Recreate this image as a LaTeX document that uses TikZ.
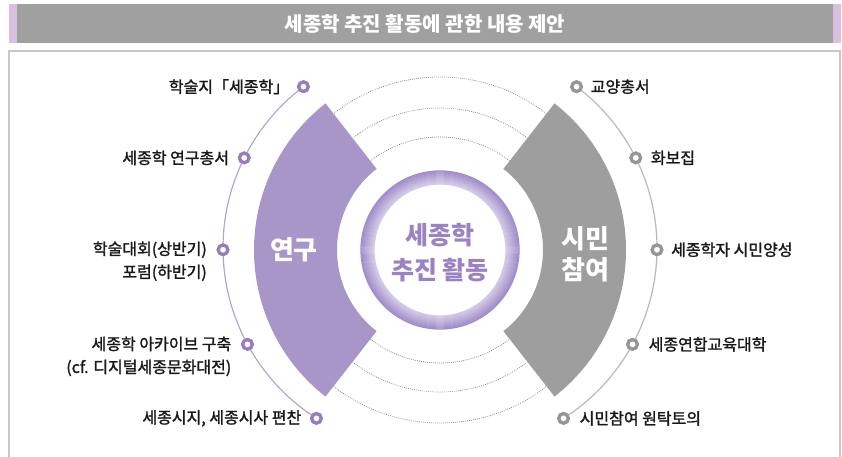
\documentclass[tikz,border=0pt]{standalone}
\usepackage{fontspec}
\setmainfont{Noto Sans CJK KR}
\newfontfamily\medfont{Noto Sans CJK KR}[FakeBold=1.6]
\usetikzlibrary{calc}
\definecolor{purp}{RGB}{168,150,200}
\definecolor{purpdot}{RGB}{150,125,190}
\definecolor{purpline}{RGB}{180,164,214}
\definecolor{purptext}{RGB}{155,130,195}
\definecolor{ringc}{RGB}{160,140,202}
\definecolor{sgray}{RGB}{158,158,158}
\definecolor{graydot}{RGB}{150,150,150}
\definecolor{grayline}{RGB}{185,185,185}
\definecolor{bargray}{RGB}{160,160,160}
\definecolor{capcol}{RGB}{218,192,224}
\definecolor{framecol}{RGB}{200,200,200}
\definecolor{dotcol}{RGB}{125,125,125}
\definecolor{txt}{RGB}{25,25,25}
\begin{document}
\begin{tikzpicture}[x=1pt,y=1pt,
  pdot/.style={circle, draw=purpdot, line width=3.2pt, fill=white, minimum size=9.5pt, inner sep=0pt},
  gdot/.style={circle, draw=graydot, line width=3.2pt, fill=white, minimum size=9.5pt, inner sep=0pt},
  lbl/.style={font=\medfont\fontsize{16}{23}\selectfont, text=txt, inner sep=0pt},
  dotarc/.style={draw=dotcol, line width=0.7pt, dash pattern=on 0.8pt off 1.2pt},
  sectortext/.style={font=\fontsize{26}{31}\selectfont\bfseries, text=white, align=center, inner sep=0pt},
  outerarc/.style={line width=1.2pt}
]
\useasboundingbox (-440,-207) rectangle (402,250);
\clip (-440,-207) rectangle (402,250);

% frame
\draw[framecol, line width=1.2pt] (-431,-230) -- (-431,199) -- (400,199) -- (400,-230);

% title bar
\fill[bargray] (-431,207) rectangle (401,246);
\fill[capcol] (-431,207) rectangle (-423,246);
\fill[capcol] (393,207) rectangle (401,246);
\node[font=\fontsize{20}{22}\selectfont\bfseries, text=white, inner sep=0pt] (title) at (-15,226.5) {세종학 추진 활동에 관한 내용 제안};

% dotted arcs
\foreach \r in {113,142,173}{
  \draw[dotarc] (52:\r) arc[start angle=52, end angle=128, radius=\r];
  \draw[dotarc] (232:\r) arc[start angle=232, end angle=308, radius=\r];
}

% sectors
\fill[purp] (128:103) arc[start angle=128, end angle=232, radius=103] -- (232:186) arc[start angle=232, end angle=128, radius=186] -- cycle;
\fill[sgray] (-52:103) arc[start angle=-52, end angle=52, radius=103] -- (52:186) arc[start angle=52, end angle=-52, radius=186] -- cycle;
\node[sectortext] (yg) at (-146,0) {연구};
\node[sectortext] (sm) at (145,-4) {시민\\참여};

% outer dots
\node[pdot] (d1) at ($(-15,2)+(127:202)$) {};
\node[pdot] (d2) at ($(-15,2)+(153.5:202)$) {};
\node[pdot] (d3) at ($(-15,2)+(180.5:202)$) {};
\node[pdot] (d4) at ($(-15,2)+(208.5:202)$) {};
\node[pdot] (d5) at ($(-15,2)+(237.5:202)$) {};
\node[gdot] (e1) at ($(15,2)+(53:202)$) {};
\node[gdot] (e2) at ($(15,2)+(26.5:202)$) {};
\node[gdot] (e3) at ($(15,2)+(-0.5:202)$) {};
\node[gdot] (e4) at ($(15,2)+(-28.5:202)$) {};
\node[gdot] (e5) at ($(15,2)+(-57.5:202)$) {};

% outer arcs (dots redrawn on top)
\draw[purpline, outerarc] (d1.center) arc[start angle=127, end angle=237.5, radius=202];
\draw[grayline, outerarc] (e1.center) arc[start angle=53, end angle=-57.5, radius=202];
\foreach \n in {d1,d2,d3,d4,d5}{ \node[pdot] at (\n) {}; }
\foreach \n in {e1,e2,e3,e4,e5}{ \node[gdot] at (\n) {}; }

% labels
\node[lbl, anchor=east] (l1) at ([xshift=-14pt]d1.center) {학술지「세종학」};
\node[lbl, anchor=east] (l2) at ([xshift=-15pt]d2.center) {세종학 연구총서};
\node[lbl, anchor=east, align=right] (l3) at ([xshift=-16pt,yshift=-11.5pt]d3.center) {학술대회(상반기)\\포럼(하반기)};
\node[lbl, anchor=east, align=right] (l4) at ([xshift=-16pt,yshift=-12pt]d4.center) {세종학 아카이브 구축\\(cf. 디지털세종문화대전)};
\node[lbl, anchor=east] (l5) at ([xshift=-15pt]d5.center) {세종시지, 세종시사 편찬};
\node[lbl, anchor=west] (r1) at ([xshift=14pt]e1.center) {교양총서};
\node[lbl, anchor=west] (r2) at ([xshift=15pt]e2.center) {화보집};
\node[lbl, anchor=west] (r3) at ([xshift=14pt]e3.center) {세종학자 시민양성};
\node[lbl, anchor=west] (r4) at ([xshift=16pt]e4.center) {세종연합교육대학};
\node[lbl, anchor=west] (r5) at ([xshift=16pt]e5.center) {시민참여 원탁토의};

% central ring
\fill[white] (0,0) circle (92);
\foreach \i in {0,...,13}{
  \pgfmathtruncatemacro{\p}{45+55*\i/13}
  \draw[ringc!\p!white, line width=1.3pt] (0,0) circle ({66+\i});
}
\node[font=\fontsize{25}{35}\selectfont\bfseries, text=purptext, align=center, inner sep=0pt] (ctr) at (0,-2.5) {세종학\\추진 활동};
\end{tikzpicture}
\end{document}
